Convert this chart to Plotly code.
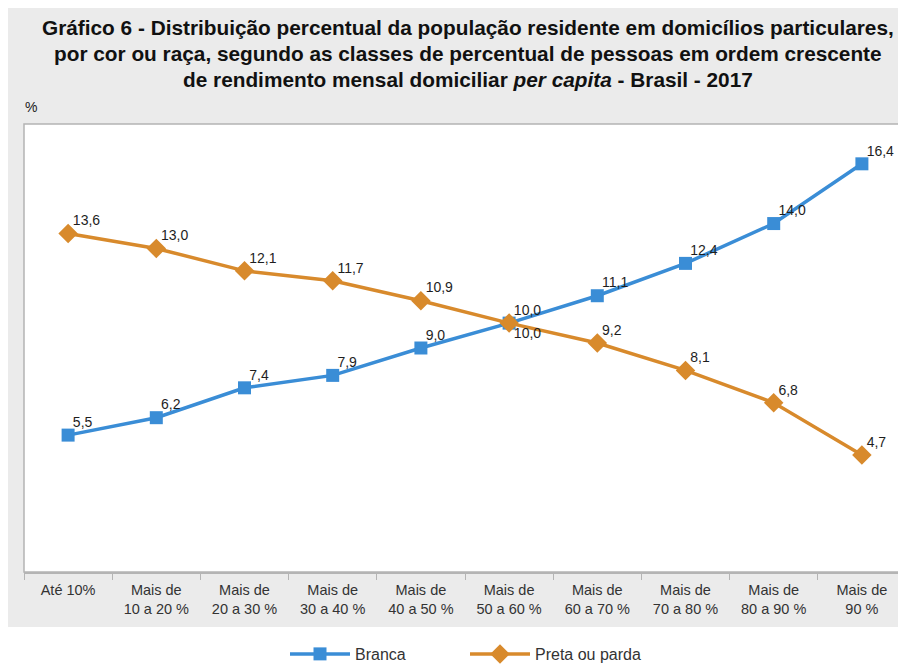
import plotly.graph_objects as go

categories = [
    "Até 10%", "Mais de<br>10 a 20 %", "Mais de<br>20 a 30 %", "Mais de<br>30 a 40 %",
    "Mais de<br>40 a 50 %", "Mais de<br>50 a 60 %", "Mais de<br>60 a 70 %",
    "Mais de<br>70 a 80 %", "Mais de<br>80 a 90 %", "Mais de<br>90 %",
]
branca = [5.5, 6.2, 7.4, 7.9, 9.0, 10.0, 11.1, 12.4, 14.0, 16.4]
preta = [13.6, 13.0, 12.1, 11.7, 10.9, 10.0, 9.2, 8.1, 6.8, 4.7]

title_lines = [
    "Gráfico 6 - Distribuição percentual da população residente em domicílios particulares,",
    "por cor ou raça, segundo as classes de percentual de pessoas em ordem crescente",
    "de rendimento mensal domiciliar <i>per capita</i> - Brasil - 2017",
]

BLUE = "#3a8dd6"
ORANGE = "#d88a2c"
FONT = "Liberation Sans, Arial, sans-serif"
LABEL_FONT = dict(family=FONT, size=14, color="#1e1e1e")


def fmt(v):
    return f"{v:.1f}".replace(".", ",")


fig = go.Figure()
fig.add_trace(go.Scatter(
    x=categories, y=branca, name="Branca", mode="lines+markers",
    line=dict(color=BLUE, width=3.5),
    marker=dict(symbol="square", size=13, color=BLUE),
))
fig.add_trace(go.Scatter(
    x=categories, y=preta, name="Preta ou parda", mode="lines+markers",
    line=dict(color=ORANGE, width=3.5),
    marker=dict(symbol="diamond", size=15, color=ORANGE),
))
# value labels (kept close to the markers)
fig.add_trace(go.Scatter(
    x=categories, y=branca, mode="markers+text", showlegend=False, hoverinfo="skip",
    marker=dict(size=6, opacity=0),
    text=[fmt(v) for v in branca], textposition="top right", textfont=LABEL_FONT,
))
fig.add_trace(go.Scatter(
    x=categories, y=preta, mode="markers+text", showlegend=False, hoverinfo="skip",
    marker=dict(size=6, opacity=0),
    text=[fmt(v) for v in preta],
    textposition=["top right"] * 5 + ["bottom right"] + ["top right"] * 4,
    textfont=LABEL_FONT,
))

# gray panel behind the chart, white plot area on top
fig.add_shape(type="rect", xref="paper", yref="paper", x0=-0.03, x1=1.05, y0=-0.123, y1=1.3,
              fillcolor="#ebebeb", line_width=0, layer="below")
fig.add_shape(type="rect", xref="paper", yref="paper", x0=0, x1=1.01, y0=0, y1=1,
              fillcolor="white", line=dict(color="#b4b4b4", width=1.5), layer="below")

for i, line in enumerate(title_lines):
    fig.add_annotation(
        text=f"<b>{line}</b>", xref="paper", yref="paper",
        x=0.503, y=1.216 - i * 0.058, xanchor="center", yanchor="middle",
        showarrow=False, font=dict(family=FONT, size=20.8, color="#111"),
    )
fig.add_annotation(text="%", xref="paper", yref="paper", x=0.008, y=1.038,
                   xanchor="center", yanchor="middle",
                   showarrow=False, font=dict(family=FONT, size=14, color="#222"))

# page body adds an 8px offset, so the figure is 8px smaller than the window
fig.update_layout(
    width=898, height=657,
    margin=dict(l=16, r=0, t=116, b=93, autoexpand=False),
    paper_bgcolor="white", plot_bgcolor="white",
    showlegend=True,
    legend=dict(orientation="h", x=0.5, xanchor="center", y=-0.183, yanchor="middle",
                font=dict(family=FONT, size=16, color="#333"), itemwidth=60,
                entrywidth=105, bgcolor="rgba(0,0,0,0)"),
    xaxis=dict(range=[-0.5, 9.5], ticks="outside", tickson="boundaries", ticklen=6,
               tickcolor="#b4b4b4", showline=True, linecolor="#b4b4b4", linewidth=1.5,
               showgrid=False, ticklabelstandoff=4,
               tickfont=dict(family=FONT, size=14.5, color="#333")),
    yaxis=dict(range=[0, 18], showticklabels=False, showgrid=False, zeroline=False, ticks=""),
)

fig.write_html("out.html")
